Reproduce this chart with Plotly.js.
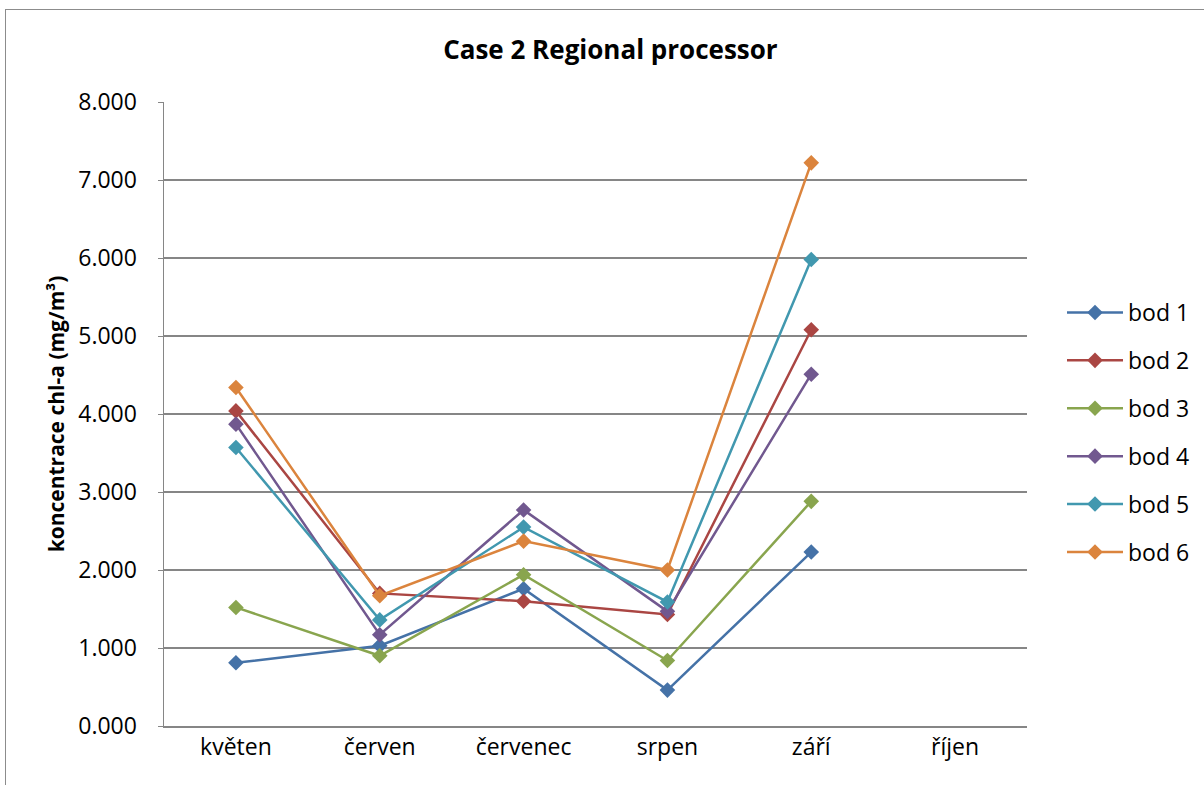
<!DOCTYPE html>
<html>
<head>
<meta charset="utf-8">
<script src="https://cdn.plot.ly/plotly-3.0.1.min.js"></script>
<style>
  html, body { margin: 0; padding: 0; background: #ffffff; }
  #frame { position: absolute; left: 5px; top: 9px; width: 1220px; height: 800px; border: 1px solid #8c8c8c; box-sizing: border-box; pointer-events: none; z-index: 5; }
  #chart { position: absolute; left: 0; top: 0; width: 1204px; height: 785px; }
</style>
</head>
<body>
<div id="chart"></div>
<div id="frame"></div>
<script>
const months = ["květen", "červen", "červenec", "srpen", "září", "říjen"];
const seriesNames = ["bod 1", "bod 2", "bod 3", "bod 4", "bod 5", "bod 6"];
const bod1 = [0.81, 1.03, 1.76, 0.46, 2.23, null];
const bod2 = [4.04, 1.70, 1.60, 1.43, 5.08, null];
const bod3 = [1.52, 0.90, 1.94, 0.84, 2.88, null];
const bod4 = [3.87, 1.17, 2.77, 1.47, 4.51, null];
const bod5 = [3.57, 1.36, 2.55, 1.59, 5.98, null];
const bod6 = [4.34, 1.67, 2.37, 2.00, 7.22, null];
const seriesValues = [bod1, bod2, bod3, bod4, bod5, bod6];
const colors = ["#4572A7", "#AA4643", "#89A54E", "#71588F", "#4198AF", "#DB843D"];

const FONT = "Open Sans, Noto Sans, Liberation Sans, sans-serif";

const traces = seriesValues.map((vals, i) => ({
  type: "scatter",
  mode: "lines+markers",
  name: seriesNames[i],
  x: months,
  y: vals,
  legendgroup: "g" + i,
  line: { color: colors[i], width: 2.5 },
  marker: { symbol: "diamond", size: 12, color: colors[i] },
  connectgaps: false
}));

const layout = {
  width: 1204,
  height: 785,
  paper_bgcolor: "#ffffff",
  plot_bgcolor: "#ffffff",
  margin: { l: 164, r: 177, t: 102, b: 59 },
  showlegend: true,
  title: {
    text: "<b>Case 2 Regional processor</b>",
    font: { family: FONT, size: 26, color: "#000000" },
    xref: "container", x: 0.507, xanchor: "center",
    yref: "container", y: 1 - 50 / 785, yanchor: "middle"
  },
  xaxis: {
    type: "category",
    categoryorder: "array",
    categoryarray: months,
    range: [-0.5, 5.5],
    showgrid: false,
    showline: true,
    linecolor: "#868686",
    linewidth: 1.5,
    ticks: "",
    tickfont: { family: FONT, size: 23, color: "#000000" },
    zeroline: false,
    fixedrange: true
  },
  yaxis: {
    range: [0, 8],
    dtick: 1,
    tick0: 0,
    tickformat: ".3f",
    showgrid: true,
    gridcolor: "#868686",
    gridwidth: 1.5,
    showline: true,
    linecolor: "#868686",
    linewidth: 1.5,
    ticks: "outside",
    ticklen: 5,
    tickcolor: "#868686",
    ticklabelstandoff: 16,
    tickfont: { family: FONT, size: 23, color: "#000000" },
    zeroline: false,
    title: {
      text: "<b>koncentrace chl-a (mg/m³)</b>",
      font: { family: FONT, size: 21, color: "#000000" },
      standoff: 8
    }
  },
  legend: {
    x: 1062 / 1204, xref: "container",
    y: 1 - 291 / 785, yref: "container",
    xanchor: "left", yanchor: "top",
    font: { family: FONT, size: 23, color: "#000000" },
    tracegroupgap: 15,
    itemwidth: 56,
    bgcolor: "rgba(0,0,0,0)"
  }
};

Plotly.newPlot("chart", traces, layout, { displayModeBar: false, staticPlot: true });
</script>
</body>
</html>
